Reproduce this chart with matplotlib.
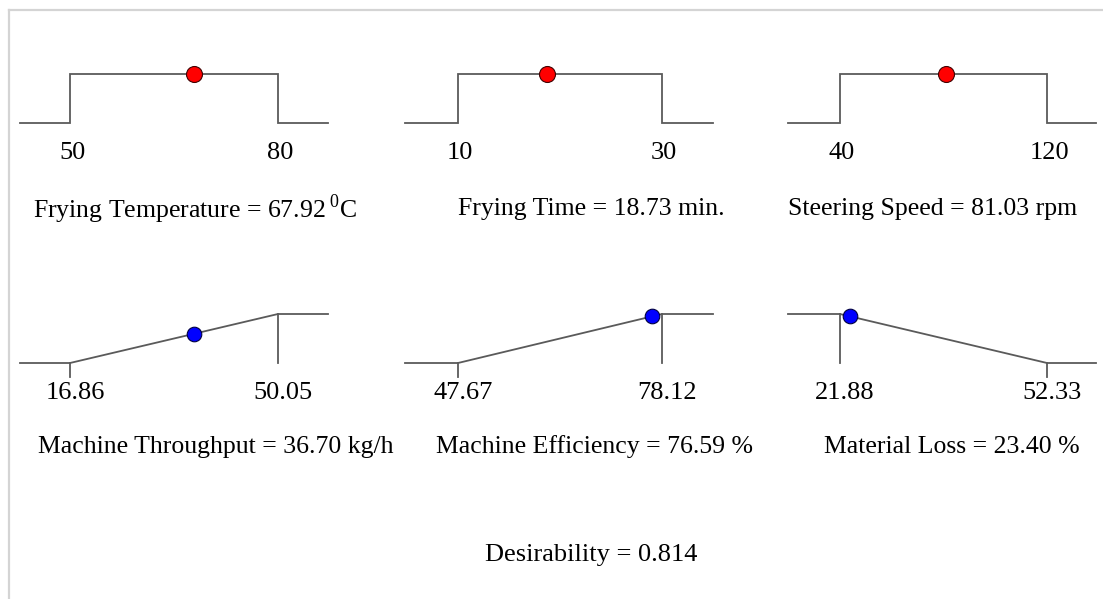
import matplotlib
matplotlib.use("Agg")
import matplotlib.pyplot as plt
from matplotlib.lines import Line2D

plt.rcParams['font.family'] = ['Liberation Serif', 'DejaVu Serif']
plt.rcParams['mathtext.fontset'] = 'custom'
plt.rcParams['mathtext.rm'] = 'Liberation Serif'

# factors (in range goal)
factor_names = ["Frying Temperature", "Frying Time", "Steering Speed"]
factor_low = [50, 10, 40]
factor_high = [80, 30, 120]
factor_value = [67.92, 18.73, 81.03]
factor_value_txt = ["67.92", "18.73", "81.03"]
factor_units = ["$\\,^{0}$C", " min.", " rpm"]
factor_low_txt = ["50", "10", "40"]
factor_high_txt = ["80", "30", "120"]

# responses
resp_names = ["Machine Throughput", "Machine Efficiency", "Material Loss"]
resp_low = [16.86, 47.67, 21.88]
resp_high = [50.05, 78.12, 52.33]
resp_value = [36.70, 76.59, 23.40]
resp_value_txt = ["36.70", "76.59", "23.40"]
resp_units = ["kg/h", "%", "%"]
resp_goal = ["max", "max", "min"]
resp_low_txt = ["16.86", "47.67", "21.88"]
resp_high_txt = ["50.05", "78.12", "52.33"]

desirability = 0.814

W, H = 1103, 599
fig = plt.figure(figsize=(W / 100, H / 100), dpi=100)

# light gray frame (top and left only visible)
fig.add_artist(Line2D([9 / W, 9 / W], [0, 1 - 10 / H], transform=fig.transFigure,
                      color="#d4d4d4", lw=1.6))
fig.add_artist(Line2D([9 / W, 1], [1 - 10 / H, 1 - 10 / H], transform=fig.transFigure,
                      color="#d4d4d4", lw=1.6))

# column layout in pixels
col_left = [20, 405, 788]
col_lo = [70, 458, 840]
col_hi = [278, 662, 1047]
col_right = [328, 713, 1096]
title_x_top = [195, 591, 933]
title_x_bot = [216, 594, 952]

line_c = "#5a5a5a"
fs = 19
fs_title = 18.5


def make_ax(i, base_px, lo, hi):
    ax = fig.add_axes([col_lo[i] / W, 1 - base_px / H,
                       (col_hi[i] - col_lo[i]) / W, 49 / H])
    ax.set_xlim(lo, hi)
    ax.set_ylim(0, 1)
    ax.axis("off")
    span = hi - lo
    xl = lo - (col_lo[i] - col_left[i]) / (col_hi[i] - col_lo[i]) * span
    xr = hi + (col_right[i] - col_hi[i]) / (col_hi[i] - col_lo[i]) * span
    return ax, xl, xr


# top row: factors
for i in range(3):
    lo, hi, v = factor_low[i], factor_high[i], factor_value[i]
    ax, xl, xr = make_ax(i, 123, lo, hi)
    ax.plot([xl, lo, lo, hi, hi, xr], [0, 0, 1, 1, 0, 0], color=line_c, lw=1.3,
            clip_on=False, solid_joinstyle="miter")
    ax.plot([v], [1], "o", color="#ff0000", mec="#400000", mew=0.8, ms=11.5,
            clip_on=False)
    off = 0.01 * (hi - lo)
    ax.text(lo + off, -0.61, factor_low_txt[i], ha="center", va="center", fontsize=fs)
    ax.text(hi + off, -0.61, factor_high_txt[i], ha="center", va="center", fontsize=fs)
    fig.text(title_x_top[i] / W, 1 - 209 / H,
             f"{factor_names[i]} = {factor_value_txt[i]}{factor_units[i]}",
             ha="center", va="center", fontsize=fs_title)

# bottom row: responses
for i in range(3):
    lo, hi, v = resp_low[i], resp_high[i], resp_value[i]
    ax, xl, xr = make_ax(i, 363, lo, hi)
    if resp_goal[i] == "max":
        d = (v - lo) / (hi - lo)
        ax.plot([xl, lo, hi, xr], [0, 0, 1, 1], color=line_c, lw=1.3, clip_on=False)
        ax.plot([hi, hi], [1, 0], color=line_c, lw=1.3, clip_on=False)
        ax.plot([lo, lo], [0, -0.29], color=line_c, lw=1.3, clip_on=False)
    else:
        d = (hi - v) / (hi - lo)
        ax.plot([xl, lo, hi, xr], [1, 1, 0, 0], color=line_c, lw=1.3, clip_on=False)
        ax.plot([lo, lo], [1, 0], color=line_c, lw=1.3, clip_on=False)
        ax.plot([hi, hi], [0, -0.29], color=line_c, lw=1.3, clip_on=False)
    ax.plot([v], [d], "o", color="#0000ff", mec="#000040", mew=0.8, ms=10.5,
            clip_on=False)
    off = 0.025 * (hi - lo)
    ax.text(lo + off, -0.61, resp_low_txt[i], ha="center", va="center", fontsize=fs)
    ax.text(hi + off, -0.61, resp_high_txt[i], ha="center", va="center", fontsize=fs)
    fig.text(title_x_bot[i] / W, 1 - 447 / H,
             f"{resp_names[i]} = {resp_value_txt[i]} {resp_units[i]}",
             ha="center", va="center", fontsize=fs_title)

fig.text(591 / W, 1 - 555 / H, f"Desirability = {desirability}", ha="center",
         va="center", fontsize=fs)

fig.savefig("out.png", dpi=100)
